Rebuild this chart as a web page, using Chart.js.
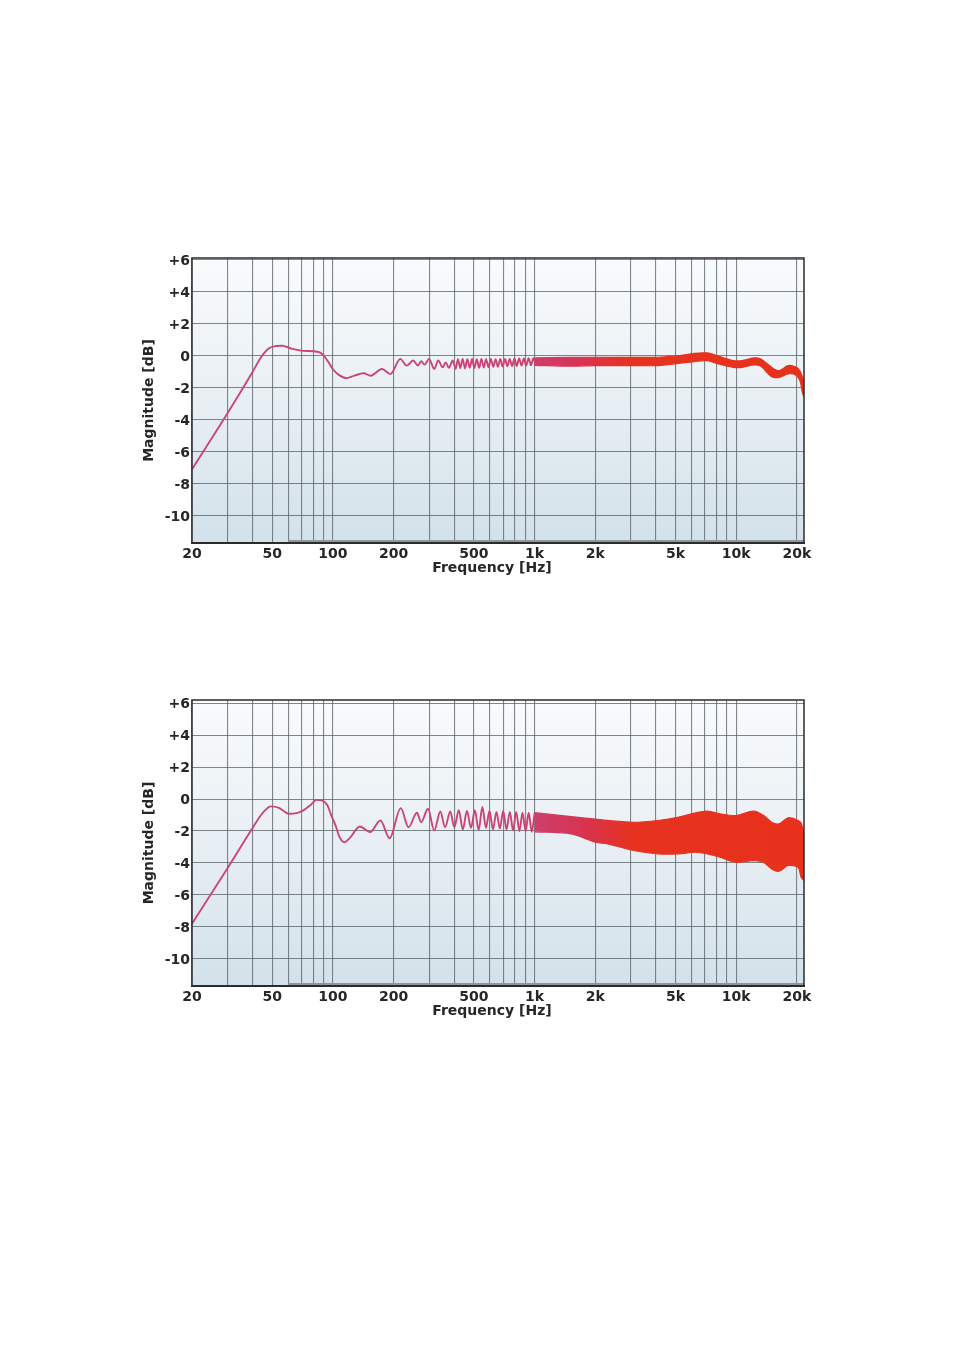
<!DOCTYPE html>
<html>
<head>
<meta charset="utf-8">
<script src="https://cdn.jsdelivr.net/npm/chart.js@4.4.1/dist/chart.umd.min.js"></script>
<style>
  body { margin: 0; background: #fff; }
  canvas { position: absolute; left: 130px; }
  #topChart { top: 250px; }
  #bottomChart { top: 692px; }
</style>
</head>
<body>
<canvas id="topChart" width="690" height="340"></canvas>
<canvas id="bottomChart" width="690" height="341"></canvas>
<script>
// grid lines on the log axis and the labelled ones
const gridFreqs = [20, 30, 40, 50, 60, 70, 80, 90, 100, 200, 300, 400, 500, 600, 700, 800, 900,
  1000, 2000, 3000, 4000, 5000, 6000, 7000, 8000, 9000, 10000, 20000];
const tickFreqs = [20, 50, 100, 200, 500, 1000, 2000, 5000, 10000, 20000];
const tickText = ['20', '50', '100', '200', '500', '1k', '2k', '5k', '10k', '20k'];
const dbTicks = [6, 4, 2, 0, -2, -4, -6, -8, -10];
const dbText = ['+6', '+4', '+2', '0', '-2', '-4', '-6', '-8', '-10'];

// measured range bar along the bottom
const rangeFreq = [60, 21700];
const rangeDb = [-11.6, -11.6];

// top response: resolved curve up to ~1 kHz, then ripple envelope
const topFreq = [20, 30, 40, 44, 48, 52, 56, 62, 71, 80, 86, 90, 95, 100, 107, 117, 128, 142, 154, 175,
  193, 216, 232, 250, 264, 274, 285, 300, 318, 333, 350, 362, 376, 393, 406,
  417, 428, 440, 452, 464, 477, 490, 503, 517, 531, 545, 560, 575, 591, 607, 624, 641, 658, 676, 695,
  714, 733, 753, 774, 795, 816, 839, 862, 885, 909, 934, 960, 986, 1013];
const topDb = [-7.1, -3.6, -1.0, -0.1, 0.45, 0.6, 0.62, 0.45, 0.3, 0.28, 0.2, 0.0, -0.4, -0.85, -1.2, -1.4, -1.25, -1.1, -1.25, -0.83,
  -1.15, -0.2, -0.62, -0.3, -0.62, -0.35, -0.56, -0.2, -0.83, -0.3, -0.73, -0.42, -0.75, -0.3, -0.82,
  -0.22, -0.78, -0.2, -0.8, -0.22, -0.75, -0.2, -0.78, -0.22, -0.76, -0.2, -0.74, -0.22, -0.72, -0.2, -0.7, -0.22, -0.7, -0.2, -0.68,
  -0.2, -0.66, -0.2, -0.65, -0.18, -0.64, -0.18, -0.62, -0.17, -0.62, -0.16, -0.6, -0.16, -0.58];
const topBandFreq = [1000, 1500, 2000, 3100, 4100, 5200, 6200, 7200, 8200, 9700, 10700, 12200, 13200, 15000, 16300, 18100, 19700, 20700, 21300, 21700];
const topBandHigh = [-0.14, -0.1, -0.1, -0.11, -0.1, 0.0, 0.15, 0.17, -0.04, -0.31, -0.31, -0.14, -0.2, -0.73, -0.94, -0.62, -0.7, -0.94, -1.35, -1.66];
const topBandLow = [-0.6, -0.66, -0.62, -0.62, -0.62, -0.48, -0.37, -0.31, -0.52, -0.73, -0.73, -0.58, -0.65, -1.31, -1.35, -1.14, -1.2, -1.56, -2.29, -2.6];

// bottom response
const botFreq = [20, 30, 40, 44, 47, 49, 54, 57, 60, 66, 71, 77, 83, 88, 94, 98, 103, 108, 114, 122,
  136, 153, 172, 191, 217, 237, 261, 274, 296, 318, 341, 360, 382, 400,
  421, 441, 462, 484, 506, 528, 551, 574, 598, 622, 647, 673, 699, 726, 754, 782, 811, 841, 872, 903, 935, 968, 1002];
const botDb = [-7.8, -4.33, -1.8, -1.0, -0.6, -0.46, -0.55, -0.75, -0.92, -0.88, -0.72, -0.4, -0.05, -0.08, -0.4, -1.0, -1.65, -2.4, -2.7, -2.4,
  -1.72, -2.07, -1.34, -2.45, -0.57, -1.76, -0.86, -1.45, -0.61, -1.97, -0.78, -1.76, -0.78, -1.76,
  -0.7, -1.9, -0.75, -1.8, -0.7, -1.95, -0.5, -1.8, -0.75, -1.9, -0.8, -1.85, -0.75, -1.9, -0.8, -1.95, -0.8, -2.0, -0.85, -2.0, -0.85, -2.05, -0.85];
const botBandFreq = [1000, 1520, 2000, 2300, 3100, 4100, 5200, 6200, 7200, 8300, 10000, 12200, 13700, 15000, 16300, 18100, 20300, 21000, 21700];
const botBandHigh = [-0.85, -1.1, -1.25, -1.34, -1.45, -1.34, -1.13, -0.88, -0.76, -0.92, -1.03, -0.76, -1.03, -1.45, -1.55, -1.17, -1.34, -1.5, -2.18];
const botBandLow = [-2.05, -2.18, -2.7, -2.8, -3.22, -3.43, -3.43, -3.33, -3.43, -3.64, -3.96, -3.85, -3.96, -4.37, -4.52, -4.16, -4.27, -4.9, -5.1];

const labelFont = { family: 'DejaVu Sans', weight: 'bold', size: 14 };
const inkColor = '#262626';
const gridColor = 'rgba(86,96,102,0.75)';

const pts = (xs, ys) => xs.map((x, i) => ({ x, y: ys[i] }));

// pink -> crimson -> red along frequency
function freqStroke(chart, stops) {
  const { ctx, chartArea, scales } = chart;
  if (!chartArea || !scales.x) return '#c9457c';
  const g = ctx.createLinearGradient(chartArea.left, 0, chartArea.right, 0);
  const w = chartArea.right - chartArea.left;
  stops.forEach(([f, c]) => {
    const p = (scales.x.getPixelForValue(f) - chartArea.left) / w;
    g.addColorStop(Math.min(Math.max(p, 0), 1), c);
  });
  return g;
}

const plotFrame = {
  id: 'plotFrame',
  beforeDraw(chart) {
    const { ctx, chartArea: a } = chart;
    const g = ctx.createLinearGradient(0, a.top, 0, a.bottom);
    g.addColorStop(0, '#f9fbfc');
    g.addColorStop(0.5, '#e8eff4');
    g.addColorStop(1, '#d2e1ea');
    ctx.save();
    ctx.fillStyle = g;
    ctx.fillRect(a.left, a.top, a.right - a.left, a.bottom - a.top);
    ctx.restore();
  },
  afterDraw(chart) {
    const { ctx, chartArea: a } = chart;
    ctx.save();
    ctx.strokeStyle = '#2b2b2b';
    ctx.lineWidth = 1.5;
    ctx.strokeRect(a.left, a.top, a.right - a.left, a.bottom - a.top);
    ctx.lineWidth = 2;
    ctx.beginPath();
    ctx.moveTo(a.left - 1, a.bottom);
    ctx.lineTo(a.right + 1, a.bottom);
    ctx.stroke();
    // x axis title, sits a little left of the plot centre
    ctx.fillStyle = inkColor;
    ctx.font = 'bold 14px "DejaVu Sans"';
    ctx.textAlign = 'center';
    ctx.textBaseline = 'middle';
    ctx.fillText('Frequency [Hz]', (a.left + a.right) / 2 - 6, a.bottom + 25);
    ctx.restore();
  }
};

function buildChart(id, line, band, yMin, yMax, stops) {
  const stroke = (c) => freqStroke(c.chart, stops);
  return new Chart(document.getElementById(id), {
    type: 'line',
    data: {
      datasets: [
        { data: pts(rangeFreq, rangeDb), borderColor: '#8d989e', borderWidth: 3, pointRadius: 0, borderCapStyle: 'butt' },
        { data: pts(band.freq, band.high), borderColor: stroke, borderWidth: 1.2, pointRadius: 0, tension: 0.3 },
        { data: pts(band.freq, band.low), borderColor: stroke, backgroundColor: stroke, borderWidth: 1.2, pointRadius: 0, tension: 0.3, fill: '-1' },
        { data: pts(line.freq, line.db), borderColor: stroke, borderWidth: 1.9, pointRadius: 0, cubicInterpolationMode: 'monotone' }
      ]
    },
    options: {
      responsive: false,
      animation: false,
      layout: { padding: { top: 8, right: 16, bottom: 0, left: 0 } },
      plugins: { legend: { display: false }, tooltip: { enabled: false } },
      scales: {
        x: {
          type: 'logarithmic', min: 20, max: 21700,
          afterBuildTicks: s => { s.ticks = gridFreqs.map(v => ({ value: v })); },
          afterFit: s => { s.height = 47; s.paddingLeft = 0; s.paddingRight = 0; },
          grid: { color: gridColor, lineWidth: 1.1, drawTicks: false },
          border: { display: false },
          ticks: {
            autoSkip: false, maxRotation: 0, padding: 3, color: inkColor, font: labelFont,
            callback: v => { const i = tickFreqs.indexOf(v); return i >= 0 ? tickText[i] : ''; }
          },
          title: { display: false }
        },
        y: {
          min: yMin, max: yMax,
          afterBuildTicks: s => { s.ticks = dbTicks.map(v => ({ value: v })); },
          afterFit: s => { s.width = 62; s.paddingTop = 0; s.paddingBottom = 0; },
          grid: { color: gridColor, lineWidth: 1.1, drawTicks: false },
          border: { display: false },
          ticks: {
            padding: 2, labelOffset: 1.5, color: inkColor, font: labelFont,
            callback: v => { const i = dbTicks.indexOf(v); return i >= 0 ? dbText[i] : ''; }
          },
          title: { display: true, text: 'Magnitude [dB]', color: inkColor, font: labelFont, padding: { top: 11, bottom: 0 } }
        }
      }
    },
    plugins: [plotFrame]
  });
}

buildChart('topChart',
  { freq: topFreq, db: topDb },
  { freq: topBandFreq, high: topBandHigh, low: topBandLow },
  -11.7, 6.1,
  [[20, '#c9457c'], [700, '#cc4474'], [1500, '#d6345a'], [3000, '#e6321f'], [21700, '#e8311c']]);

buildChart('bottomChart',
  { freq: botFreq, db: botDb },
  { freq: botBandFreq, high: botBandHigh, low: botBandLow },
  -11.7, 6.2,
  [[20, '#c9457c'], [800, '#cb4476'], [1800, '#d8334f'], [3000, '#e6321f'], [21700, '#e8311c']]);
</script>
</body>
</html>
